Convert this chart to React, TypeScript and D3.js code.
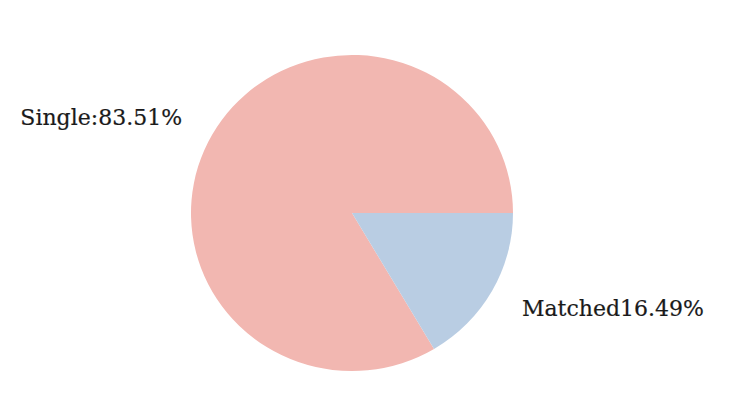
import React from "react";
import * as d3 from "d3";

const categories = ["Single", "Matched"];
const values = [83.51, 16.49];
const labels = ["Single:83.51%", "Matched16.49%"];
const colors = ["#f2b7b1", "#b9cde3"];

export default function App() {
  const width = 746;
  const height = 415;
  const cx = 352;
  const cy = 213;
  const r = 161;

  // matplotlib style: start at 3 o'clock, counterclockwise
  const pie = d3
    .pie<number>()
    .sort(null)
    .startAngle(Math.PI / 2)
    .endAngle(Math.PI / 2 - 2 * Math.PI);
  const arcs = pie(values);
  const arc = d3.arc<d3.PieArcDatum<number>>().innerRadius(0).outerRadius(r);

  return (
    <svg
      width={width}
      height={height}
      style={{ position: "absolute", left: 0, top: 0 }}
    >
      <rect width={width} height={height} fill="#fff" />
      <g transform={`translate(${cx},${cy}) scale(1,0.982)`}>
        {arcs.map((a, i) => (
          <path key={categories[i]} d={arc(a) ?? ""} fill={colors[i]} />
        ))}
      </g>
      {arcs.map((a, i) => {
        const mid = (a.startAngle + a.endAngle) / 2;
        const x = cx + 1.215 * r * Math.sin(mid);
        const y = cy - 1.2 * r * Math.cos(mid);
        return (
          <text
            key={categories[i]}
            x={x}
            y={y}
            textAnchor={x < cx ? "end" : "start"}
            dominantBaseline="central"
            fontFamily="DejaVu Serif"
            fontSize={22}
            fill="#1a1a1a"
            stroke="#1a1a1a"
            strokeWidth={0.2}
          >
            {labels[i]}
          </text>
        );
      })}
    </svg>
  );
}
